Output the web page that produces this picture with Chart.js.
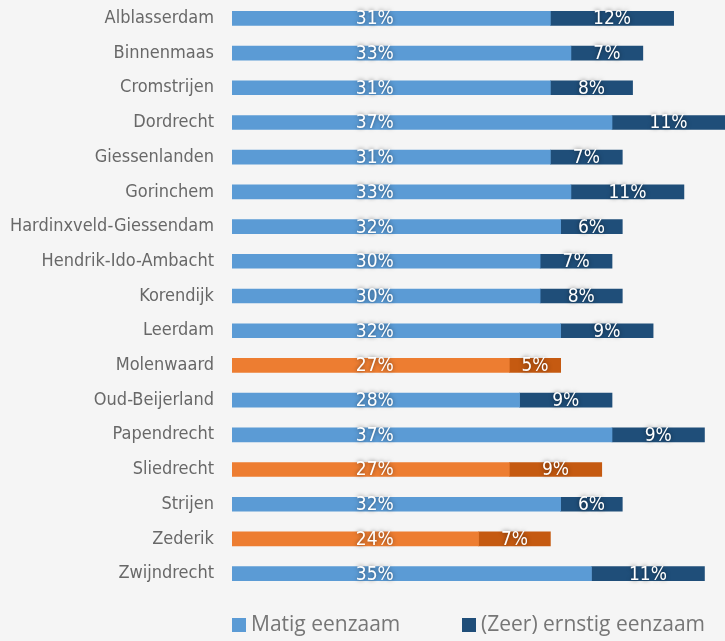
<!DOCTYPE html>
<html>
<head>
<meta charset="utf-8">
<script src="https://cdn.jsdelivr.net/npm/chart.js@4"></script>
<style>
  html, body { margin: 0; padding: 0; background: #f5f5f5; }
  #wrap { width: 725px; height: 641px; }
</style>
</head>
<body>
<div id="wrap"><canvas id="chart"></canvas></div>
<script>
const municipalities = [
  "Alblasserdam", "Binnenmaas", "Cromstrijen", "Dordrecht", "Giessenlanden",
  "Gorinchem", "Hardinxveld-Giessendam", "Hendrik-Ido-Ambacht", "Korendijk",
  "Leerdam", "Molenwaard", "Oud-Beijerland", "Papendrecht", "Sliedrecht",
  "Strijen", "Zederik", "Zwijndrecht"
];
const matig = [31, 33, 31, 37, 31, 33, 32, 30, 30, 32, 27, 28, 37, 27, 32, 24, 35];
const ernstig = [12, 7, 8, 11, 7, 11, 6, 7, 8, 9, 5, 9, 9, 9, 6, 7, 11];
const highlighted = ["Molenwaard", "Sliedrecht", "Zederik"];
const seriesNames = ["Matig eenzaam", "(Zeer) ernstig eenzaam"];

const narrow = '"Liberation Sans Narrow", "DejaVu Sans Condensed", sans-serif';
const blue = ["#5b9bd5", "#1f4e79"];
const orange = ["#ed7d31", "#c55a11"];

function colorsFor(i) {
  return municipalities.map(m => highlighted.includes(m) ? orange[i] : blue[i]);
}

// labels of the first series sit at a fixed spot, the second are centred
const firstLabelAt = 13.9;

const barLabels = {
  id: "barLabels",
  afterDatasetsDraw(chart) {
    const { ctx } = chart;
    const xs = chart.scales.x;
    ctx.save();
    ctx.font = "19px " + narrow;
    ctx.fillStyle = "#ffffff";
    ctx.textAlign = "center";
    ctx.textBaseline = "middle";
    ctx.shadowColor = "rgba(0,0,0,0.55)";
    ctx.shadowBlur = 4;
    chart.data.datasets.forEach((ds, di) => {
      chart.getDatasetMeta(di).data.forEach((bar, i) => {
        const x = di === 0 ? xs.getPixelForValue(firstLabelAt) : (bar.x + bar.base) / 2;
        ctx.fillText(ds.data[i] + "%", x, bar.y + 1);
      });
    });
    ctx.restore();
  }
};

const bottomLegend = {
  id: "bottomLegend",
  afterDraw(chart) {
    const { ctx } = chart;
    const spots = [232, 462];
    ctx.save();
    ctx.font = '21px "Open Sans", sans-serif';
    ctx.textBaseline = "middle";
    seriesNames.forEach((name, i) => {
      ctx.fillStyle = blue[i];
      ctx.fillRect(spots[i], 618, 14, 14);
      ctx.fillStyle = "#767676";
      ctx.fillText(name, spots[i] + 19, 625);
    });
    ctx.restore();
  }
};

new Chart(document.getElementById("chart"), {
  type: "bar",
  data: {
    labels: municipalities,
    datasets: [
      { label: seriesNames[0], data: matig, backgroundColor: colorsFor(0), barThickness: 14 },
      { label: seriesNames[1], data: ernstig, backgroundColor: colorsFor(1), barThickness: 14 }
    ]
  },
  options: {
    indexAxis: "y",
    responsive: true,
    maintainAspectRatio: false,
    animation: false,
    layout: { padding: { top: 1, bottom: 50, left: 0, right: 0 } },
    plugins: {
      legend: { display: false },
      tooltip: { enabled: false }
    },
    scales: {
      x: { stacked: true, min: 0, max: 48, display: false },
      y: {
        stacked: true,
        grid: { display: false, drawTicks: false },
        border: { display: false },
        ticks: { color: "#686868", font: { family: narrow, size: 18 }, padding: 18 },
        afterFit(scale) {
          scale.width = 232;
          scale.paddingTop = 0;
          scale.paddingBottom = 0;
        }
      }
    }
  },
  plugins: [barLabels, bottomLegend]
});
</script>
</body>
</html>
